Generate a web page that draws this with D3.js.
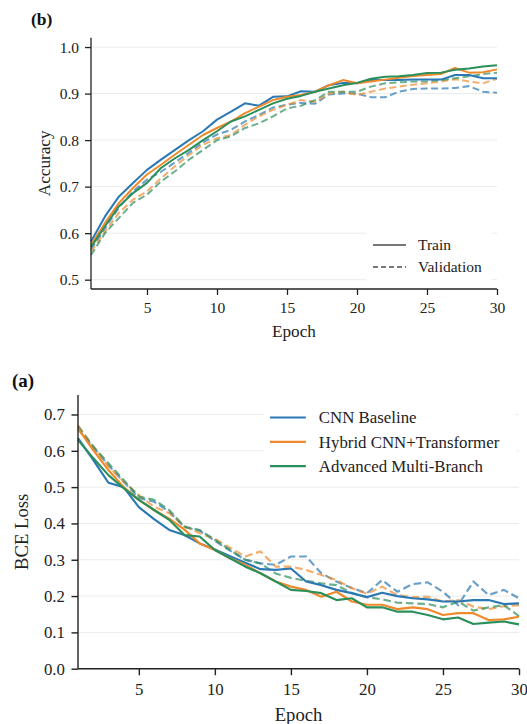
<!DOCTYPE html>
<html>
<head>
<meta charset="utf-8">
<script src="https://cdn.jsdelivr.net/npm/d3@7"></script>
<style>
  body { margin: 0; background: #fff; }
  svg { display: block; font-family: "Liberation Serif", "Times New Roman", serif; }
</style>
</head>
<body>
<script>
// epochs on the x axis
var epochs = d3.range(1, 31);

// model names (legend order)
var models = ["CNN Baseline", "Hybrid CNN+Transformer", "Advanced Multi-Branch"];
var colors = ["#2a78b4", "#ef8a2c", "#2b8f5b"];

// accuracy, panel (b)
var accTrainCnn = [0.582,0.636,0.679,0.708,0.736,0.758,0.779,0.800,0.819,0.844,0.861,0.879,0.874,0.893,0.894,0.905,0.904,0.918,0.923,0.922,0.929,0.929,0.929,0.930,0.930,0.930,0.940,0.940,0.933,0.933];
var accTrainHybrid = [0.575,0.622,0.665,0.697,0.726,0.747,0.769,0.790,0.811,0.826,0.840,0.858,0.872,0.886,0.893,0.897,0.904,0.918,0.929,0.922,0.926,0.930,0.934,0.938,0.940,0.942,0.955,0.945,0.946,0.952];
var accTrainAdv = [0.570,0.615,0.658,0.686,0.708,0.740,0.761,0.779,0.800,0.819,0.840,0.851,0.865,0.879,0.889,0.895,0.904,0.911,0.918,0.923,0.932,0.936,0.937,0.940,0.944,0.945,0.951,0.954,0.958,0.961];
var accValCnn = [0.565,0.610,0.655,0.690,0.715,0.732,0.752,0.773,0.795,0.812,0.822,0.840,0.854,0.870,0.876,0.880,0.878,0.898,0.900,0.900,0.892,0.892,0.904,0.910,0.911,0.911,0.912,0.916,0.904,0.902];
var accValHybrid = [0.560,0.603,0.644,0.672,0.690,0.718,0.744,0.768,0.790,0.804,0.811,0.833,0.851,0.865,0.876,0.886,0.882,0.900,0.904,0.897,0.904,0.911,0.915,0.919,0.922,0.926,0.931,0.926,0.922,0.932];
var accValAdv = [0.553,0.600,0.633,0.665,0.683,0.711,0.733,0.758,0.779,0.800,0.808,0.826,0.836,0.851,0.868,0.874,0.886,0.904,0.904,0.904,0.915,0.922,0.924,0.926,0.926,0.929,0.933,0.937,0.942,0.945];

// bce loss, panel (a)
var lossTrainCnn = [0.635,0.575,0.512,0.500,0.445,0.412,0.382,0.368,0.345,0.328,0.310,0.292,0.274,0.272,0.276,0.240,0.230,0.217,0.208,0.197,0.209,0.200,0.194,0.191,0.185,0.185,0.189,0.189,0.178,0.180];
var lossTrainHybrid = [0.662,0.602,0.547,0.500,0.465,0.437,0.413,0.383,0.345,0.327,0.304,0.286,0.263,0.240,0.226,0.217,0.198,0.212,0.185,0.176,0.176,0.164,0.169,0.164,0.148,0.153,0.153,0.134,0.136,0.143];
var lossTrainAdv = [0.630,0.580,0.533,0.497,0.465,0.437,0.410,0.368,0.364,0.327,0.304,0.281,0.263,0.240,0.217,0.214,0.208,0.189,0.194,0.169,0.169,0.157,0.157,0.148,0.136,0.141,0.123,0.127,0.130,0.122];
var lossValCnn = [0.660,0.610,0.560,0.515,0.470,0.460,0.432,0.390,0.380,0.352,0.325,0.300,0.290,0.286,0.309,0.309,0.263,0.240,0.222,0.208,0.244,0.212,0.233,0.238,0.212,0.175,0.240,0.203,0.217,0.194];
var lossValHybrid = [0.670,0.612,0.557,0.515,0.478,0.446,0.428,0.393,0.373,0.358,0.333,0.309,0.323,0.281,0.281,0.272,0.258,0.244,0.222,0.206,0.226,0.203,0.197,0.198,0.185,0.189,0.171,0.164,0.172,0.175];
var lossValAdv = [0.667,0.612,0.566,0.520,0.474,0.465,0.437,0.391,0.382,0.355,0.327,0.300,0.290,0.262,0.250,0.242,0.235,0.230,0.208,0.197,0.191,0.182,0.180,0.178,0.169,0.185,0.160,0.169,0.175,0.145];

// tick labels
var xTicks = [5, 10, 15, 20, 25, 30];
var accTicks = [0.5, 0.6, 0.7, 0.8, 0.9, 1.0];
var lossTicks = [0.0, 0.1, 0.2, 0.3, 0.4, 0.5, 0.6, 0.7];

var svg = d3
  .select("body")
  .append("svg")
  .attr("width", 527)
  .attr("height", 724);

//draws one panel, s is a size factor for fonts and strokes
function drawPanel(p) {
  var s = p.s;
  var x = d3.scaleLinear().domain([1, 30]).range([p.left, p.right]);
  var y = d3.scaleLinear().domain(p.yDomain).range([p.bottom, p.top]);
  var g = svg.append("g");

  // horizontal grid lines
  g.append("g")
    .selectAll("line")
    .data(p.yTicks)
    .enter()
    .append("line")
    .attr("x1", p.left)
    .attr("x2", p.right)
    .attr("y1", (d) => y(d))
    .attr("y2", (d) => y(d))
    .attr("stroke", "#ebebeb")
    .attr("stroke-width", 1);

  var line = d3
    .line()
    .x((d, i) => x(epochs[i]))
    .y((d) => y(d));

  // validation first (dashed), then train on top
  p.val.forEach(function (vals, i) {
    g.append("path")
      .attr("d", line(vals))
      .attr("fill", "none")
      .attr("stroke", colors[i])
      .attr("stroke-opacity", 0.7)
      .attr("stroke-width", 2 * s)
      .attr("stroke-dasharray", 7 * s + "," + 3.5 * s);
  });
  p.train.forEach(function (vals, i) {
    g.append("path")
      .attr("d", line(vals))
      .attr("fill", "none")
      .attr("stroke", colors[i])
      .attr("stroke-width", 2 * s)
      .attr("stroke-linejoin", "round");
  });

  // axes
  var xAxis = g
    .append("g")
    .attr("transform", "translate(0," + p.bottom + ")")
    .call(d3.axisBottom(x).tickValues(xTicks).tickSize(6 * s).tickPadding(7 * s).tickSizeOuter(0));
  var yAxis = g
    .append("g")
    .attr("transform", "translate(" + p.left + ",0)")
    .call(
      d3.axisLeft(y).tickValues(p.yTicks).tickSize(6 * s).tickPadding(6 * s).tickSizeOuter(0)
        .tickFormat(d3.format(".1f"))
    );
  yAxis.select(".domain").attr("d", "M0," + p.bottom + "V" + p.top);
  xAxis.select(".domain").attr("d", "M" + p.left + ",0H" + p.right);
  [xAxis, yAxis].forEach(function (a) {
    a.select(".domain").attr("stroke", "#222").attr("stroke-width", 1.3 * s);
    a.selectAll(".tick line").attr("stroke", "#222").attr("stroke-width", 1.3 * s);
    a.selectAll("text")
      .attr("fill", "#222")
      .style("font-family", "Liberation Serif")
      .style("font-size", 15.5 * s + "px");
  });

  // axis titles
  g.append("text")
    .attr("x", (p.left + p.right) / 2)
    .attr("y", p.bottom + 48 * s)
    .attr("text-anchor", "middle")
    .attr("fill", "#222")
    .style("font-size", 17.2 * s + "px")
    .text("Epoch");
  g.append("text")
    .attr("transform", "translate(" + p.yLabelX + "," + (p.top + p.bottom) / 2 + ") rotate(-90)")
    .attr("text-anchor", "middle")
    .attr("fill", "#222")
    .style("font-size", 17.2 * s + "px")
    .text(p.yLabel);

  // panel letter
  g.append("text")
    .attr("x", p.tagX)
    .attr("y", p.tagY)
    .attr("fill", "#111")
    .style("font-weight", "bold")
    .style("font-size", 17.5 * s + "px")
    .text(p.tag);

  // legend box
  var lg = g.append("g");
  lg.append("rect")
    .attr("x", p.legend.x)
    .attr("y", p.legend.y)
    .attr("width", p.legend.w)
    .attr("height", p.legend.h)
    .attr("fill", "#fff")
    .attr("fill-opacity", 0.9);
  p.legend.items.forEach(function (it, i) {
    var ly = p.legend.y + p.legend.first + i * p.legend.step;
    lg.append("line")
      .attr("x1", p.legend.lineX)
      .attr("x2", p.legend.lineX + 33 * s)
      .attr("y1", ly)
      .attr("y2", ly)
      .attr("stroke", it.color)
      .attr("stroke-width", 2 * s)
      .attr("stroke-dasharray", it.dash ? 5 * s + "," + 3 * s : null);
    lg.append("text")
      .attr("x", p.legend.lineX + 45 * s)
      .attr("y", ly)
      .attr("dy", "0.35em")
      .attr("fill", "#222")
      .style("font-size", 15.5 * s + "px")
      .text(it.label);
  });
}

drawPanel({
  s: 1,
  left: 91,
  right: 497,
  top: 37.7,
  bottom: 289,
  yDomain: [0.48, 1.0201],
  yTicks: accTicks,
  yLabel: "Accuracy",
  yLabelX: 50,
  tag: "(b)",
  tagX: 31,
  tagY: 25,
  train: [accTrainCnn, accTrainHybrid, accTrainAdv],
  val: [accValCnn, accValHybrid, accValAdv],
  legend: {
    x: 366, y: 229, w: 126, h: 54, first: 16, step: 22, lineX: 373,
    items: [
      { label: "Train", color: "#777", dash: false },
      { label: "Validation", color: "#777", dash: true }
    ]
  }
});

drawPanel({
  s: 1.086,
  left: 78,
  right: 519,
  top: 395,
  bottom: 668.7,
  yDomain: [0, 0.7537],
  yTicks: lossTicks,
  yLabel: "BCE Loss",
  yLabelX: 28,
  tag: "(a)",
  tagX: 12,
  tagY: 387,
  train: [lossTrainCnn, lossTrainHybrid, lossTrainAdv],
  val: [lossValCnn, lossValHybrid, lossValAdv],
  legend: {
    x: 264, y: 402, w: 252, h: 78, first: 15.5, step: 24.3, lineX: 270,
    items: models.map((m, i) => ({ label: m, color: colors[i], dash: false }))
  }
});
</script>
</body>
</html>
